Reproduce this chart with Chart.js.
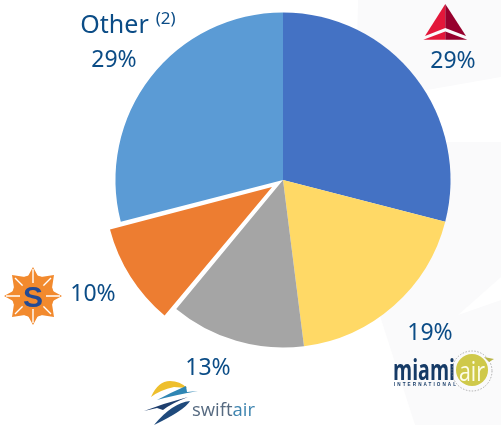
<!DOCTYPE html>
<html><head><meta charset="utf-8">
<script src="https://cdn.jsdelivr.net/npm/chart.js@4"></script>
<style>
html,body{margin:0;padding:0;background:#fff;overflow:hidden}
#wrap{position:relative;width:501px;height:425px;overflow:hidden}
#bg,#logos{position:absolute;left:0;top:0}
#cv{position:absolute;left:0;top:0}
.lab{position:absolute;font-family:"Noto Sans",sans-serif;font-size:23px;line-height:30px;color:#0b4c86;white-space:nowrap;transform:translateX(-50%)}
#oname{font-size:25px}
#onote{font-size:17px;margin-left:7px;position:relative;top:-9px}
</style></head><body>
<div id="wrap">
<svg id="bg" width="501" height="425">
<path d="M358 0 L501 0 L501 77 L427 90 L356 90 Z" fill="#fafafb"/>
<path d="M420 142 L501 142 L501 277 L458 315 L501 300 L501 425 L415 425 L380 316 L420 250 Z" fill="#fafafb"/>
</svg>
<canvas id="cv" width="501" height="425"></canvas>
<svg id="logos" width="501" height="425">
<!-- delta -->
<path d="M445.3 4 L425 36 L445.3 28Z" fill="#e3173a"/><path d="M445.3 4 L466 36 L445.3 28Z" fill="#96002d"/>
<path d="M423.3 39.7 L445.3 31.5 L445.3 39.7Z" fill="#e3173a"/><path d="M445.3 31.5 L467.3 39.7 L445.3 39.7Z" fill="#96002d"/>
<!-- miami air -->
<text x="393" y="380" font-family="Open Sans,sans-serif" font-weight="700" font-size="28" textLength="62" lengthAdjust="spacingAndGlyphs" fill="#153a66">miami</text>
<text x="394" y="385.5" font-family="Liberation Sans,sans-serif" font-weight="700" font-size="4.6" textLength="62" fill="#153a66">INTERNATIONAL</text>
<circle cx="472" cy="371" r="20" fill="none" stroke="#8f8f8f" stroke-width=".7" stroke-dasharray="1.5 1.5"/>
<circle cx="472" cy="370" r="16" fill="#cfc94a"/>
<path d="M484 357 L494 359 L489 362Z" fill="#b9b64a"/>
<text x="472" y="381" text-anchor="middle" font-family="Open Sans,sans-serif" font-size="27" textLength="26" lengthAdjust="spacingAndGlyphs" fill="#fdfde8">air</text>
<!-- swiftair -->
<path d="M151 397 Q158 381 170 381 Q180 381 187 388 L174 387 Q160 390 151 397Z" fill="#eebf2d"/>
<path d="M157 400 Q172 392 186 386 L187 392 L198 391 Q175 395 157 400Z" fill="#2f86b4"/>
<path d="M144 411 Q165 403 188 397 Q172 403 163 410 L157 408 Z" fill="#1f3f6e"/>
<path d="M154 425 Q172 403 190 401 Q185 410 154 425Z" fill="#1f4a7c"/>
<text x="192" y="415.5" font-family="Open Sans,sans-serif" font-size="19" textLength="63" lengthAdjust="spacingAndGlyphs" fill="#566a80">swift<tspan fill="#3f85b0">air</tspan></text>
<!-- sun country -->
<g transform="translate(33 296)">
<circle r="21" fill="#f28a2e"/>
<path d="M0 -29 L6 -18 L-6 -18Z M0 29 L6 18 L-6 18Z M-29 0 L-18 -6 L-18 6Z M29 0 L18 -6 L18 6Z M-21 -21 L-8 -19 L-19 -8Z M21 -21 L8 -19 L19 -8Z M-21 21 L-8 19 L-19 8Z M21 21 L8 19 L19 8Z" fill="#f28a2e"/>
<path d="M0 -27V-13M0 13V27M-27 0H-13M13 0H27M-18 -18L-10 -10M10 10L18 18M-18 18L-10 10M10 -10L18 -18" stroke="#fff" stroke-width="1.4"/>
<rect x="-11" y="-11" width="22" height="22" rx="2" fill="#f28a2e"/>
<text x="0" y="10.5" text-anchor="middle" font-family="Liberation Sans,sans-serif" font-weight="700" font-size="30" fill="#234a94">S</text>
</g>
</svg>
<div class="lab" style="left:128px;top:8px"><span id="oname"></span><span id="onote"></span></div>
<div class="lab" id="l4" style="left:114px;top:43px"></div>
<div class="lab" id="l0" style="left:453px;top:44px"></div>
<div class="lab" id="l1" style="left:430px;top:316px"></div>
<div class="lab" id="l2" style="left:208px;top:351px"></div>
<div class="lab" id="l3" style="left:93px;top:277px"></div>
</div>
<script>
const categories = ["Delta", "Miami Air", "Swift Air", "Sun Country", "Other"];
const shares = [29, 19, 13, 10, 29];
const sliceColors = ["#4472c4", "#ffd966", "#a5a5a5", "#ed7d31", "#5b9bd5"];
const otherNote = "(2)";
const pullOut = 13;

shares.forEach((v, i) => { document.getElementById("l" + i).textContent = v + "%"; });
document.getElementById("oname").textContent = categories[4];
document.getElementById("onote").textContent = otherNote;

// Chart.js grows a pulled-out slice by offset * (1 - sin(sweep)); undo that so it keeps the pie's radius.
const keepRadius = {
  id: "keepRadius",
  afterDatasetsUpdate(chart) {
    const arc = chart.getDatasetMeta(0).data[3];
    arc.outerRadius -= pullOut * (1 - Math.sin(arc.circumference));
  }
};

new Chart(document.getElementById("cv"), {
  type: "pie",
  data: { labels: categories, datasets: [{
    data: shares,
    backgroundColor: sliceColors,
    borderWidth: 0,
    offset: [0, 0, 0, pullOut * 4, 0]
  }]},
  options: {
    responsive: false,
    animation: false,
    radius: 167.5,
    layout: { padding: { left: 65, right: 0, top: 0, bottom: 65 } },
    plugins: { legend: { display: false }, tooltip: { enabled: false } }
  },
  plugins: [keepRadius]
});
</script>
</body></html>
